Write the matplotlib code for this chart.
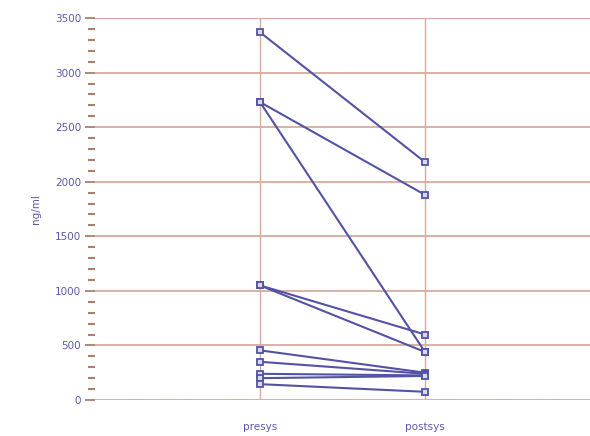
import numpy as np
import matplotlib.pyplot as plt
from matplotlib.ticker import MultipleLocator

categories = ["presys", "postsys"]
presys = [3370, 2730, 2730, 1050, 1050, 455, 350, 240, 200, 145]
postsys = [2180, 1880, 440, 600, 440, 250, 240, 225, 220, 75]

line_col = "#5452a4"
grid_col = "#d3ac9c"
txt_col = "#5c5aa8"

fig = plt.figure(figsize=(5.9, 4.36), dpi=100)
ax = fig.add_axes([0.161, 0.0826, 0.839, 0.876])

x = [1, 2]
for a, b in zip(presys, postsys):
    ax.plot(x, [a, b], color=line_col, lw=1.5, marker="s", ms=5,
            mfc="#d8d8ee", mec=line_col, mew=1.3, zorder=3)

ax.set_xlim(0, 3)
ax.set_ylim(0, 3500)
ax.set_xticks(x)
ax.set_xticklabels(categories)
ax.yaxis.set_major_locator(MultipleLocator(500))
ax.yaxis.set_minor_locator(MultipleLocator(100))

ax.grid(axis="y", which="major", color=grid_col, lw=1.3)
for xi in x:
    ax.axvline(xi, color=grid_col, lw=1.0, zorder=1)
ax.axhline(3500, color=grid_col, lw=1.6)
ax.axhline(0, color="#c8b8b0", lw=1.0, ls=(0, (3, 2)))

for s in ax.spines.values():
    s.set_visible(False)

ax.tick_params(axis="y", which="major", length=7, width=1.3, color="#a8806e",
               labelsize=7.5, labelcolor=txt_col, pad=3)
ax.tick_params(axis="y", which="minor", length=5, width=1.5, color="#a8806e")
ax.tick_params(axis="x", length=0, labelsize=7.5, labelcolor=txt_col, pad=16)

ax.set_ylabel("ng/ml", fontsize=7.5, color=txt_col, labelpad=10)

fig.savefig("out.png", dpi=100)
